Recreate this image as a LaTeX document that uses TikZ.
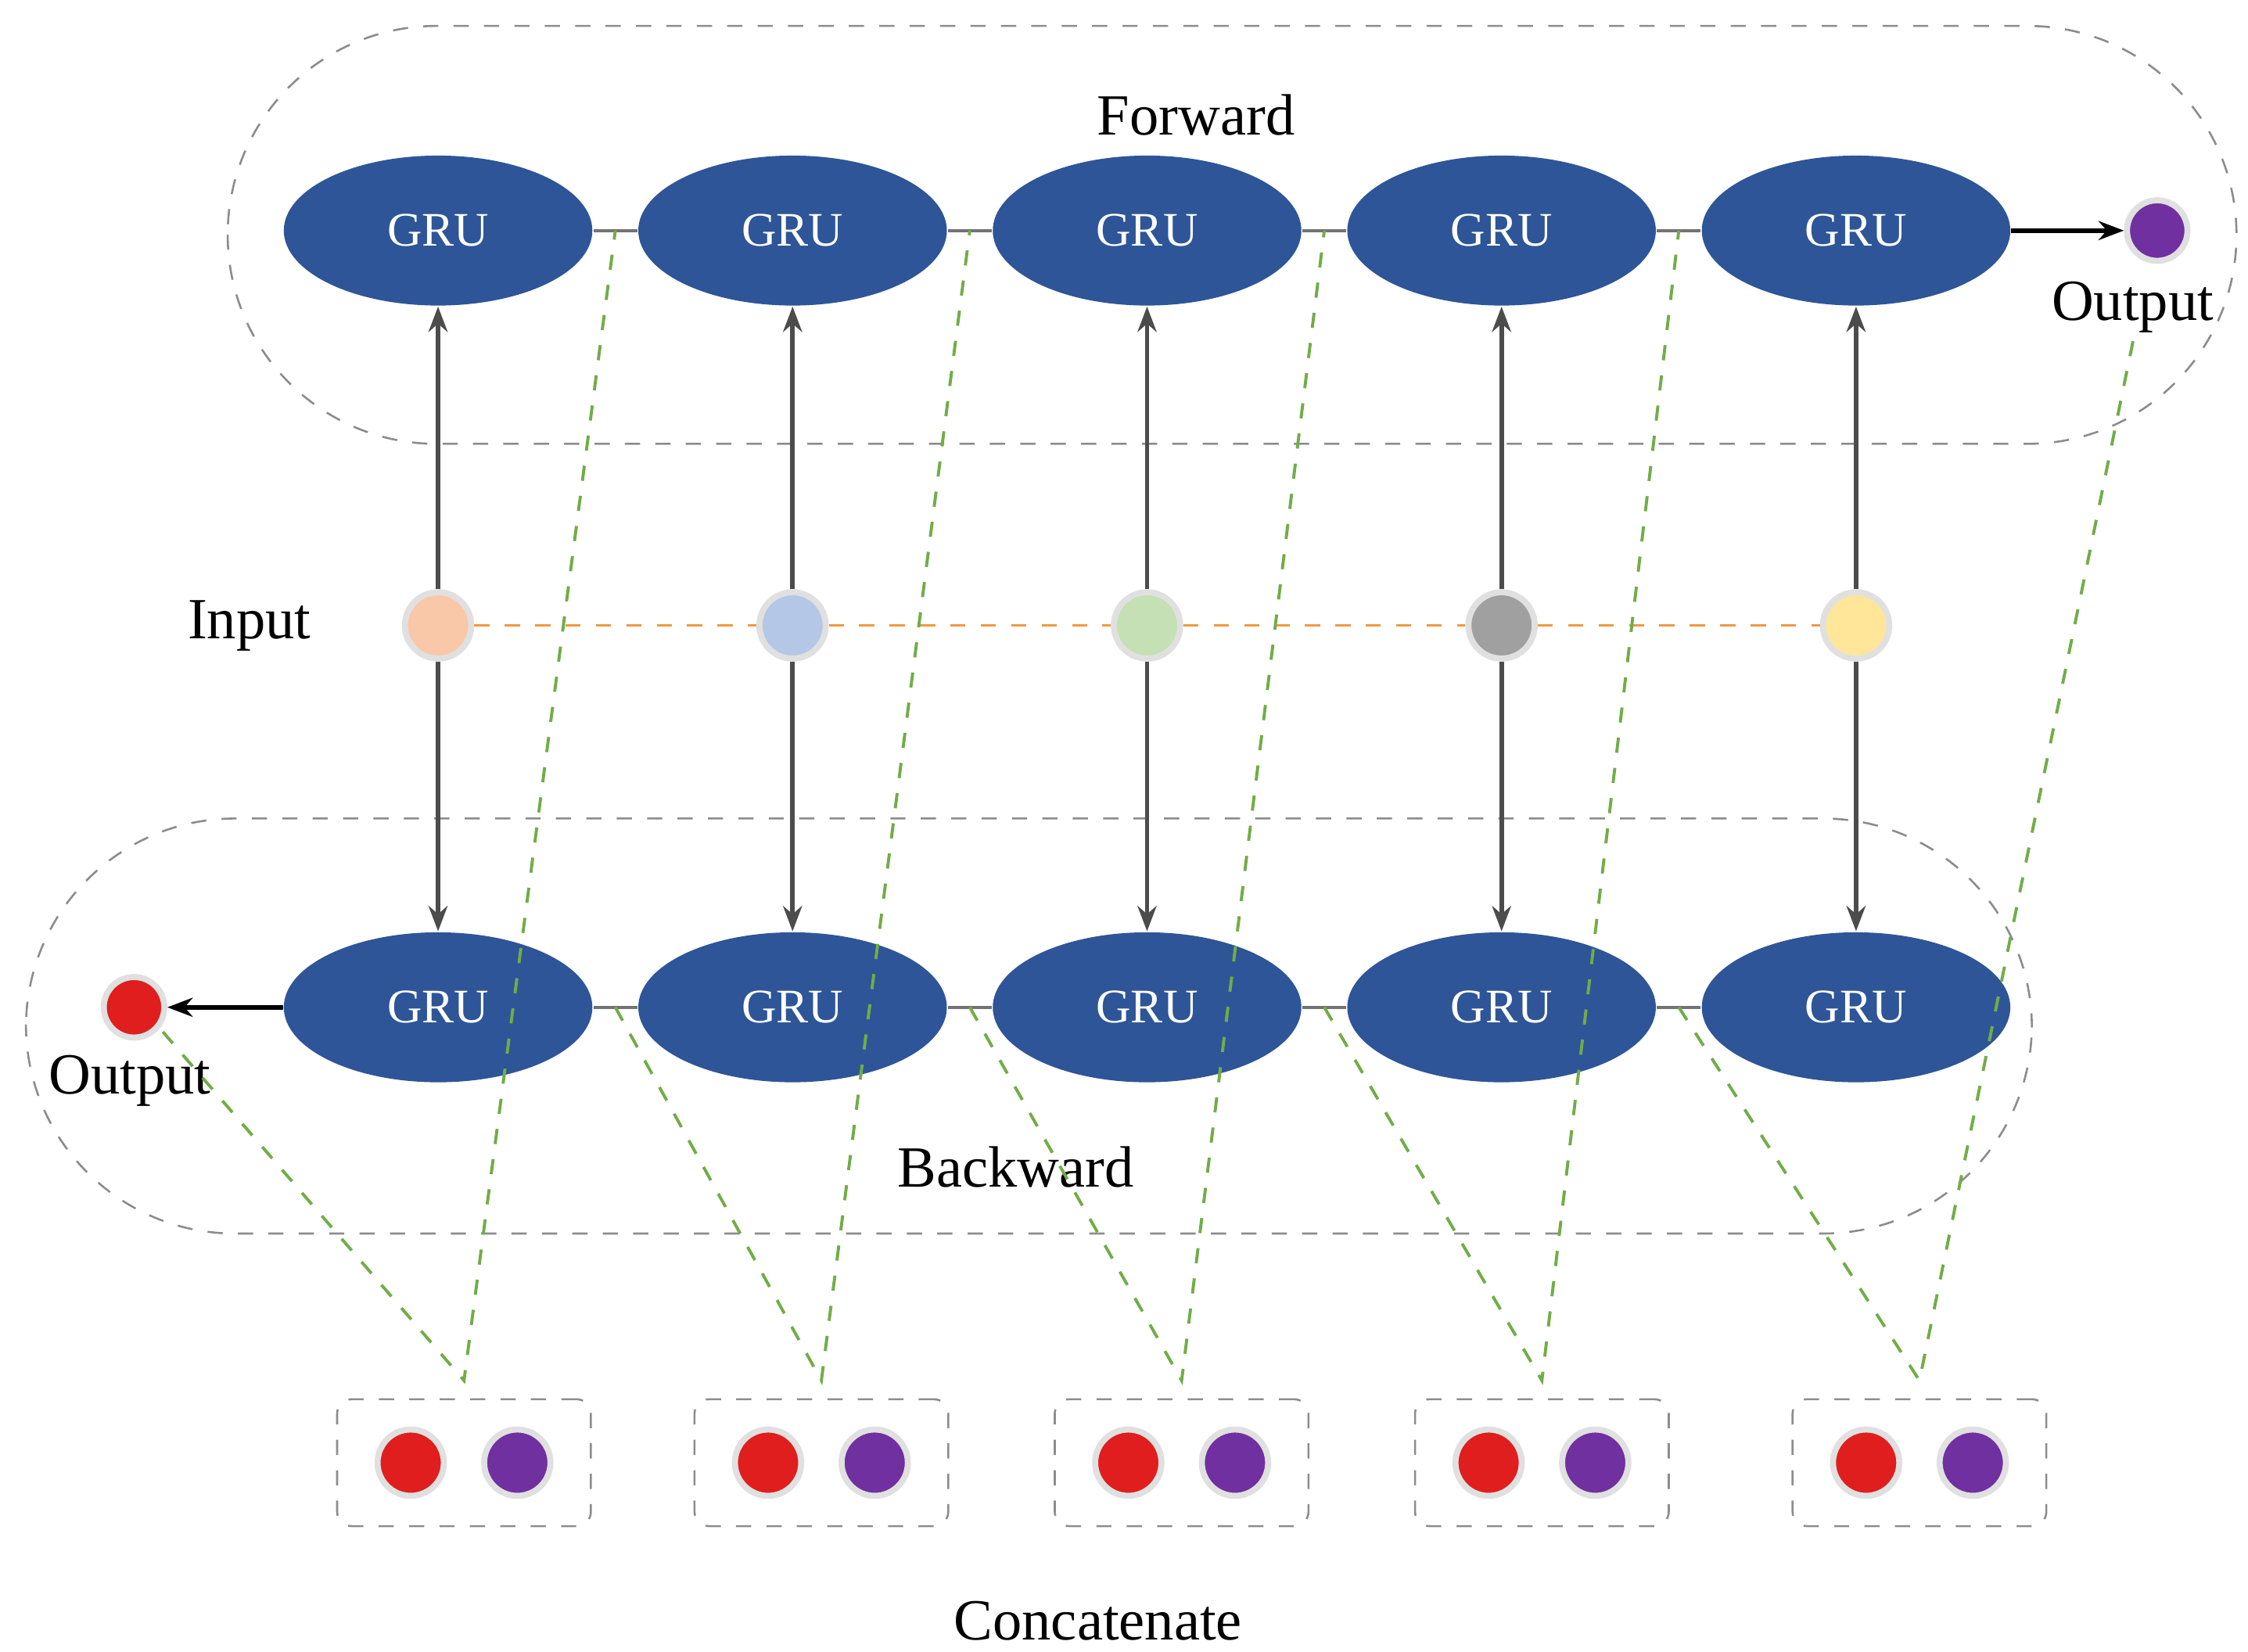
\documentclass[tikz,border=0pt]{standalone}
\usepackage{fontspec}
\setmainfont{Liberation Serif}
\usetikzlibrary{arrows.meta,shapes.geometric}
\definecolor{gblue}{HTML}{2E5597}
\definecolor{gred}{HTML}{E01E1E}
\definecolor{gpur}{HTML}{7030A0}
\definecolor{ggreen}{HTML}{70AD47}
\begin{document}
\begin{tikzpicture}[x=0.01cm,y=-0.01cm,
 gru/.style={ellipse,fill=gblue,minimum width=2.14cm,minimum height=1.04cm,inner sep=0,text=white,font=\fontsize{9.5}{11}\selectfont},
 dot/.style={circle,minimum size=0.46cm,inner sep=0,draw=black!12,line width=1.2pt},
 lbl/.style={font=\fontsize{11.5}{13}\selectfont},
 link/.style={draw=black!55,line width=0.6pt},
 vert/.style={draw=black!70,line width=0.9pt,-{Stealth[length=5pt]}},
 gd/.style={draw=ggreen,dashed,line width=0.6pt},
 region/.style={draw=black!45,dashed,line width=0.4pt,rounded corners=1.45cm}]
\useasboundingbox (0,0) rectangle (1560,1146);
\draw[region] (158,18) rectangle (1552,308);
\draw[region] (18,568) rectangle (1410,856);
\node[lbl] (fw) at (830,80) {Forward};
\node[lbl] (bw) at (705,810) {Backward};
\node[lbl] (in) at (173,434) {Input};
\node[lbl] (cc) at (762,1125) {Concatenate};
\foreach \i/\x/\c in {1/304/F8C8A8,2/550/B4C7E7,3/796/C5E0B4,4/1042/A0A0A0,5/1288/FFE699}{
  \definecolor{ic\i}{HTML}{\c}
  \node[gru] (f\i) at (\x,160) {GRU};
  \node[gru] (b\i) at (\x,699) {GRU};
  \node[dot,fill=ic\i] (i\i) at (\x,434) {};
}
\foreach \i/\j in {1/2,2/3,3/4,4/5}{
  \draw[link] (f\i) -- (f\j);
  \draw[link] (b\i) -- (b\j);
  \draw[draw=orange!70!brown!80,dashed,line width=0.6pt] (i\i) -- (i\j);
}
\foreach \i in {1,...,5}{
  \draw[vert] (i\i) -- (f\i);
  \draw[vert] (i\i) -- (b\i);
}
\node[dot,fill=gpur,minimum size=0.42cm] (fo) at (1497,160) {};
\node[lbl] (fol) at (1480,213) {Output};
\node[dot,fill=gred,minimum size=0.42cm] (bo) at (93,699) {};
\node[lbl] (bol) at (90,750) {Output};
\draw[vert,draw=black] (f5) -- (fo);
\draw[vert,draw=black] (b1) -- (bo);
\foreach \i/\x in {1/322,2/570,3/820,4/1070,5/1332}{
  \node[draw=black!45,dashed,line width=0.4pt,rounded corners=0.1cm,minimum width=1.76cm,minimum height=0.88cm] (c\i) at (\x,1015) {};
  \node[dot,fill=gred] (cr\i) at (\x-37,1015) {};
  \node[dot,fill=gpur] (cp\i) at (\x+37,1015) {};
  \coordinate (t\i) at (\x,958);
}
\coordinate (fl1) at (427,160); \coordinate (fl2) at (673,160); \coordinate (fl3) at (919,160); \coordinate (fl4) at (1165,160);
\coordinate (bl1) at (427,699); \coordinate (bl2) at (673,699); \coordinate (bl3) at (919,699); \coordinate (bl4) at (1165,699);
\coordinate (fo2) at (1482,228); \coordinate (bo2) at (113,716);
\draw[gd] (bo2) -- (t1) -- (fl1);
\draw[gd] (bl1) -- (t2) -- (fl2);
\draw[gd] (bl2) -- (t3) -- (fl3);
\draw[gd] (bl3) -- (t4) -- (fl4);
\draw[gd] (bl4) -- (t5) -- (fo2);
\end{tikzpicture}
\end{document}
